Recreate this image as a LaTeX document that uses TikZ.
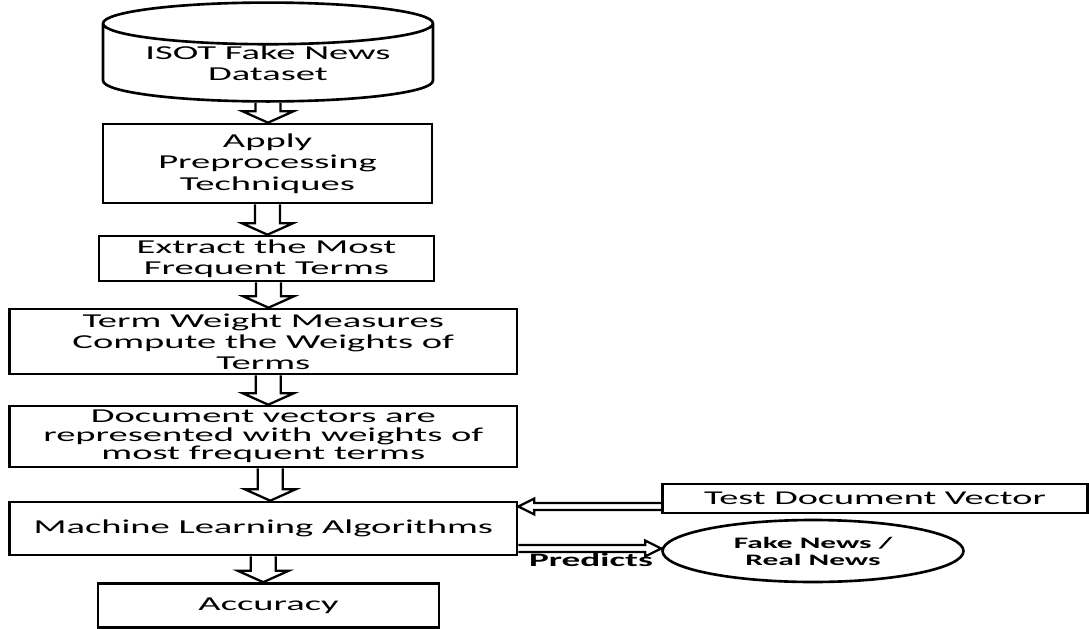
\documentclass[tikz,border=0pt]{standalone}
\usepackage{fontspec}
\setmainfont{Carlito}[FakeStretch=1.96]
\usetikzlibrary{shapes.geometric,calc}

\newcommand{\blockdown}[3][0]{%
  \draw[line width=1.3pt] let \p1=($(#2.south)+(#1,0)$), \p2=(#3.north) in
    (\x1-7.1pt,\y1) -- (\x1-7.1pt,\y2+6.5pt) -- (\x1-14.5pt,\y2+6.5pt) -- (\x1,\y2)
    -- (\x1+14.5pt,\y2+6.5pt) -- (\x1+7.1pt,\y2+6.5pt) -- (\x1+7.1pt,\y1);}
\newcommand{\blockleft}[3][0]{%
  \draw[line width=1.3pt] let \p1=($(#2.west)+(0,#1)$), \p2=(#3.east) in
    (\x1,\y1+2pt) -- (\x2+9.1pt,\y1+2pt) -- (\x2+9.1pt,\y1+4.5pt) -- (\x2,\y1)
    -- (\x2+9.1pt,\y1-4.5pt) -- (\x2+9.1pt,\y1-2pt) -- (\x1,\y1-2pt);}
\newcommand{\blockright}[3][0]{%
  \draw[line width=1.3pt] let \p1=($(#2.east)+(0,#1)$), \p2=(#3.west) in
    (\x1,\y1+2pt) -- (\x2-9.1pt,\y1+2pt) -- (\x2-9.1pt,\y1+4.5pt) -- (\x2,\y1)
    -- (\x2-9.1pt,\y1-4.5pt) -- (\x2-9.1pt,\y1-2pt) -- (\x1,\y1-2pt);}

\begin{document}
\begin{tikzpicture}[x=0.02cm, y=-0.02cm,
    procbox/.style={draw, line width=1.5pt, fill=white, inner sep=0pt, align=center,
      font=\fontsize{11.2}{12.1}\selectfont},
    dbnode/.style={procbox, cylinder, shape border rotate=90, aspect=0.17},
    outnode/.style={draw, line width=1.5pt, ellipse, inner sep=0pt, align=center,
      font=\fontsize{9.1}{9.7}\selectfont\bfseries}]
        \useasboundingbox (0,0) rectangle (1089,629);

        \node[dbnode, minimum width=6.6cm, minimum height=1.8cm, anchor=shape center] (isot) at (268,52) {ISOT Fake News\\Dataset};
        \node[procbox, minimum width=6.58cm, minimum height=1.58cm] (prep) at (267.5,163.5) {Apply\\Preprocessing\\Techniques};
        \node[procbox, minimum width=6.7cm, minimum height=0.9cm] (extract) at (266.5,258.5) {Extract the Most\\Frequent Terms};
        \node[procbox, minimum width=10.15cm, minimum height=1.3cm] (weight) at (263.25,341.5) {Term Weight Measures\\Compute the Weights of\\Terms};
        \node[procbox, minimum width=10.15cm, minimum height=1.22cm, font=\fontsize{11.2}{10.5}\selectfont] (docvec) at (263.25,436.5) {Document vectors are\\represented with weights of\\most frequent terms};
        \node[procbox, minimum width=10.15cm, minimum height=1.06cm] (mla) at (263.25,528.5) {Machine Learning Algorithms};
        \node[procbox, minimum width=6.82cm, minimum height=0.88cm] (acc) at (268.5,605.5) {Accuracy};

        \node[procbox, minimum width=8.5cm, minimum height=0.58cm, font=\fontsize{11.1}{12}\selectfont] (test) at (875,498.5) {Test Document Vector};
        \node[outnode, minimum width=6.02cm, minimum height=1.24cm] (result) at (813,551) {Fake News /\\Real News};
        \node[font=\fontsize{10.8}{12}\selectfont\bfseries] (predlbl) at (591,560) {Predicts};

        \blockdown{isot}{prep}
        \blockdown{prep}{extract}
        \blockdown[2]{extract}{weight}
        \blockdown[5]{weight}{docvec}
        \blockdown[7]{docvec}{mla}
        \blockdown{mla}{acc}

        \blockleft[8]{test}{mla}
        \blockright[20]{mla}{result}
    \end{tikzpicture}
\end{document}
